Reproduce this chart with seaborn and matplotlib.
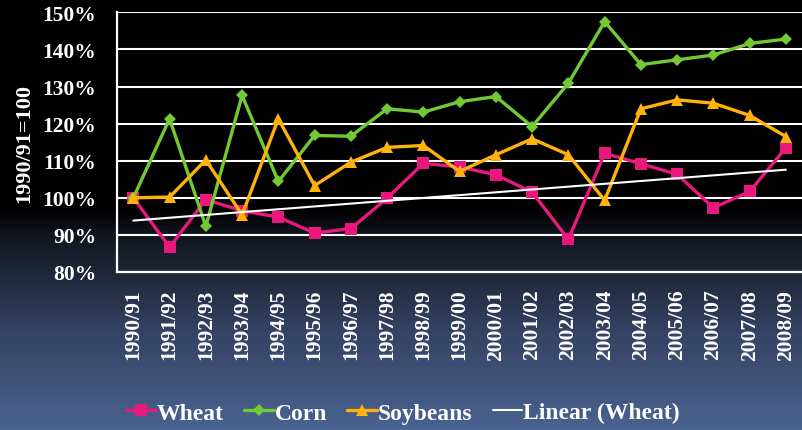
"""Wheat, corn and soybean index (1990/91 = 100) with a linear wheat trend."""

import matplotlib

matplotlib.use("Agg")

import matplotlib.pyplot as plt
import numpy as np
import pandas as pd
import seaborn as sns
from matplotlib.colors import LinearSegmentedColormap
from matplotlib.lines import Line2D

SEASONS = [
    "1990/91", "1991/92", "1992/93", "1993/94", "1994/95", "1995/96", "1996/97",
    "1997/98", "1998/99", "1999/00", "2000/01", "2001/02", "2002/03", "2003/04",
    "2004/05", "2005/06", "2006/07", "2007/08", "2008/09",
]
WHEAT = [100.0, 86.7, 99.5, 96.5, 94.8, 90.5, 91.7, 99.9, 109.3, 108.3,
         106.2, 101.5, 88.8, 112.0, 109.2, 106.3, 97.3, 101.7, 113.5]
CORN = [100.0, 121.3, 92.3, 127.6, 104.4, 116.8, 116.6, 124.0, 123.1, 125.9,
        127.3, 119.2, 130.9, 147.5, 135.9, 137.2, 138.5, 141.6, 142.8]
SOYBEANS = [100.0, 100.2, 110.2, 95.4, 121.3, 103.3, 109.6, 113.6, 114.1, 107.1,
            111.6, 115.9, 111.6, 99.3, 124.0, 126.4, 125.5, 122.2, 116.5]
Y_TICKS = [80, 90, 100, 110, 120, 130, 140, 150]

CROPS = ["Wheat", "Corn", "Soybeans"]
COLORS = {"Wheat": "#e8187c", "Corn": "#72c934", "Soybeans": "#ffb20a"}
MARKERS = {"Wheat": "s", "Corn": "D", "Soybeans": "^"}
MSIZE = {"Wheat": 8.5, "Corn": 6.5, "Soybeans": 8.5}
SERIF = ["Liberation Serif", "DejaVu Serif"]


def main() -> None:
    sns.set_theme(style="white")
    plt.rcParams["font.family"] = SERIF

    idx = np.arange(len(SEASONS))
    data = pd.concat(
        [pd.DataFrame({"season": idx, "value": vals, "crop": name})
         for name, vals in zip(CROPS, [WHEAT, CORN, SOYBEANS])],
        ignore_index=True,
    )

    fig = plt.figure(figsize=(8.03, 4.31), dpi=100)

    # background: black at the top fading into slate blue at the bottom
    bg = fig.add_axes([0, 0, 1, 1], zorder=-10)
    cmap = LinearSegmentedColormap.from_list(
        "bg", [(0.0, "#000000"), (0.49, "#000000"), (0.545, "#10141d"),
               (0.633, "#1e2637"), (0.766, "#334261"), (1.0, "#4a6290")]
    )
    bg.imshow(np.linspace(0, 1, 431).reshape(-1, 1), aspect="auto", cmap=cmap,
              extent=[0, 1, 1, 0])
    bg.set_axis_off()

    ax = fig.add_axes([0.1457, 0.3666, 0.8543, 0.6025])
    ax.patch.set_alpha(0)

    for crop in CROPS:
        sns.lineplot(data=data[data["crop"] == crop], x="season", y="value",
                     color=COLORS[crop], marker=MARKERS[crop],
                     markersize=MSIZE[crop], markeredgewidth=0, linewidth=2.4,
                     ax=ax)
    sns.regplot(x=idx, y=np.array(WHEAT), scatter=False, ci=None, truncate=True,
                color="white", line_kws={"linewidth": 1.5}, ax=ax)

    ax.set_xlim(-0.45, len(SEASONS) - 0.53)
    ax.set_ylim(80, 150)
    ax.set_yticks(Y_TICKS, labels=[f"{v}%" for v in Y_TICKS])
    ax.set_xticks(idx, labels=SEASONS, rotation=90)
    ax.grid(axis="y", color="white", linewidth=1.5)
    ax.grid(axis="x", visible=False)
    ax.tick_params(axis="x", length=0, pad=12, labelsize=15.5, labelcolor="white")
    ax.tick_params(axis="y", length=0, pad=15, labelsize=15.5, labelcolor="white")
    for lab in ax.get_xticklabels() + ax.get_yticklabels():
        lab.set_fontweight("bold")
    for side in ["top", "right"]:
        ax.spines[side].set_visible(False)
    for side in ["left", "bottom"]:
        ax.spines[side].set_color("white")
        ax.spines[side].set_linewidth(1.6)

    ax.set_xlabel("")
    ax.set_ylabel("1990/91=100", color="white", fontsize=16, fontweight="bold",
                  labelpad=6)

    handles = [Line2D([], [], color=COLORS[c], marker=MARKERS[c],
                      markersize=MSIZE[c], markeredgewidth=0, linewidth=2.4)
               for c in CROPS]
    handles.append(Line2D([], [], color="white", linewidth=1.5))
    fig.legend(handles, CROPS + ["Linear (Wheat)"], loc="center",
               bbox_to_anchor=(0.502, 0.04), ncol=4, frameon=False,
               handlelength=1.25, handletextpad=0.05, columnspacing=0.85,
               prop={"size": 17, "weight": "bold"}, labelcolor="white")

    fig.savefig("out.png", dpi=100, facecolor="black")


if __name__ == "__main__":
    main()
